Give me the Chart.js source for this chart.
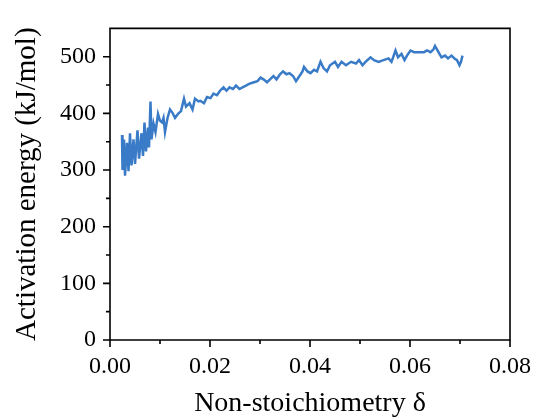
<!DOCTYPE html>
<html>
<head>
<meta charset="utf-8">
<script src="https://cdn.jsdelivr.net/npm/chart.js@4/dist/chart.umd.min.js"></script>
<style>
  html, body { margin: 0; padding: 0; background: #ffffff; }
  canvas { display: block; }
</style>
</head>
<body>
<canvas id="c" width="543" height="419"></canvas>
<script>
// Non-stoichiometry δ (x) and activation energy in kJ/mol (y)
const deltaValues = [
  0.0024, 0.0025, 0.0028, 0.0030, 0.0034, 0.0037, 0.0040, 0.0043, 0.0047, 0.0050,
  0.0055, 0.0058, 0.0063, 0.0066, 0.0069, 0.0072, 0.0076, 0.0078, 0.0081, 0.0083,
  0.0087, 0.0091, 0.0096, 0.0100, 0.0104, 0.0107, 0.0110, 0.0115, 0.0120, 0.0125,
  0.0130, 0.0136, 0.0142, 0.0148, 0.0152, 0.0159, 0.0165, 0.0170, 0.0177, 0.0181,
  0.0188, 0.0194, 0.0201, 0.0207, 0.0214, 0.0220, 0.0227, 0.0233, 0.0239, 0.0246,
  0.0252, 0.0259, 0.0265, 0.0272, 0.0278, 0.0288, 0.0295, 0.0301, 0.0307, 0.0314,
  0.0320, 0.0327, 0.0333, 0.0340, 0.0346, 0.0353, 0.0359, 0.0366, 0.0372, 0.0379,
  0.0385, 0.0388, 0.0395, 0.0401, 0.0408, 0.0414, 0.0421, 0.0427, 0.0434, 0.0440,
  0.0450, 0.0456, 0.0463, 0.0472, 0.0482, 0.0492, 0.0498, 0.0505, 0.0511, 0.0521,
  0.0528, 0.0537, 0.0547, 0.0557, 0.0563, 0.0571, 0.0576, 0.0583, 0.0589, 0.0594,
  0.0601, 0.0608, 0.0618, 0.0628, 0.0634, 0.0641, 0.0647, 0.0650, 0.0657, 0.0663,
  0.0670, 0.0676, 0.0683, 0.0689, 0.0694, 0.0699, 0.0702, 0.0705
];
const energyValues = [
  362, 300, 354, 290, 348, 298, 365, 308, 354, 311,
  370, 320, 365, 325, 384, 333, 375, 340, 421, 354,
  382, 367, 399, 387, 384, 392, 367, 392, 407, 401,
  392, 399, 404, 426, 412, 418, 407, 426, 421, 422,
  418, 429, 427, 435, 432, 440, 446, 440, 446, 443,
  449, 443, 446, 449, 452, 455, 457, 463, 460, 455,
  460, 466, 460, 469, 474, 469, 471, 466, 457, 466,
  474, 482, 474, 471, 477, 474, 491, 480, 474, 485,
  491, 482, 491, 485, 491, 488, 494, 485, 491, 499,
  494, 491, 494, 497, 491, 511, 499, 505, 494, 502,
  511, 508, 508, 508, 511, 508, 513, 519, 508, 499,
  502, 497, 502, 497, 494, 485, 491, 502
];
const xTickValues = [0.00, 0.02, 0.04, 0.06, 0.08];
const xMinorValues = [0.01, 0.03, 0.05, 0.07];
const yTickValues = [0, 100, 200, 300, 400, 500];
const yMinorValues = [50, 150, 250, 350, 450];
const xTitle = 'Non-stoichiometry δ';
const yTitle = 'Activation energy (kJ/mol)';

const points = deltaValues.map((d, i) => ({ x: d, y: energyValues[i] }));

const FONT = "'Liberation Serif', 'Times New Roman', serif";

const frame = {
  id: 'frame',
  afterDraw(chart) {
    const { ctx, chartArea: a, scales } = chart;
    const xs = scales.x, ys = scales.y;
    ctx.save();
    ctx.strokeStyle = '#000';
    ctx.lineWidth = 1.6;
    ctx.beginPath();
    ctx.rect(a.left, a.top, a.right - a.left, a.bottom - a.top);
    ctx.stroke();
    ctx.beginPath();
    xTickValues.forEach(v => { const p = xs.getPixelForValue(v); ctx.moveTo(p, a.bottom); ctx.lineTo(p, a.bottom + 7); });
    xMinorValues.forEach(v => { const p = xs.getPixelForValue(v); ctx.moveTo(p, a.bottom); ctx.lineTo(p, a.bottom + 4); });
    yTickValues.forEach(v => { const p = ys.getPixelForValue(v); ctx.moveTo(a.left, p); ctx.lineTo(a.left - 7, p); });
    yMinorValues.forEach(v => { const p = ys.getPixelForValue(v); ctx.moveTo(a.left, p); ctx.lineTo(a.left - 4, p); });
    ctx.stroke();
    ctx.restore();
  }
};

new Chart(document.getElementById('c'), {
  type: 'line',
  data: {
    datasets: [{
      data: points,
      borderColor: '#3a7bc8',
      borderWidth: 2.5,
      pointRadius: 0,
      tension: 0,
      fill: false
    }]
  },
  options: {
    responsive: false,
    animation: false,
    devicePixelRatio: 1,
    layout: { padding: { top: 13, right: 21, left: 0, bottom: 0 } },
    plugins: { legend: { display: false }, tooltip: { enabled: false } },
    scales: {
      x: {
        type: 'linear',
        min: 0, max: 0.08,
        afterBuildTicks: s => { s.ticks = xTickValues.map(v => ({ value: v })); },
        afterFit: s => { s.height = 79; },
        grid: { display: false, drawTicks: false },
        border: { display: false },
        ticks: {
          padding: 12,
          color: '#000',
          font: { family: FONT, size: 24 },
          callback: v => Number(v).toFixed(2)
        },
        title: {
          display: true, text: xTitle, color: '#000',
          font: { family: FONT, size: 28, lineHeight: 1 },
          padding: { top: 0, bottom: 1 }
        }
      },
      y: {
        type: 'linear',
        min: 0, max: 550,
        afterBuildTicks: s => { s.ticks = yTickValues.map(v => ({ value: v })); },
        afterFit: s => { s.width = 110; },
        grid: { display: false, drawTicks: false },
        border: { display: false },
        ticks: {
          padding: 14,
          color: '#000',
          font: { family: FONT, size: 24 },
          callback: v => String(v)
        },
        title: {
          display: true, text: yTitle, color: '#000',
          font: { family: FONT, size: 29, lineHeight: 1 },
          padding: { top: 13, bottom: 0 }
        }
      }
    }
  },
  plugins: [frame]
});
</script>
</body>
</html>
